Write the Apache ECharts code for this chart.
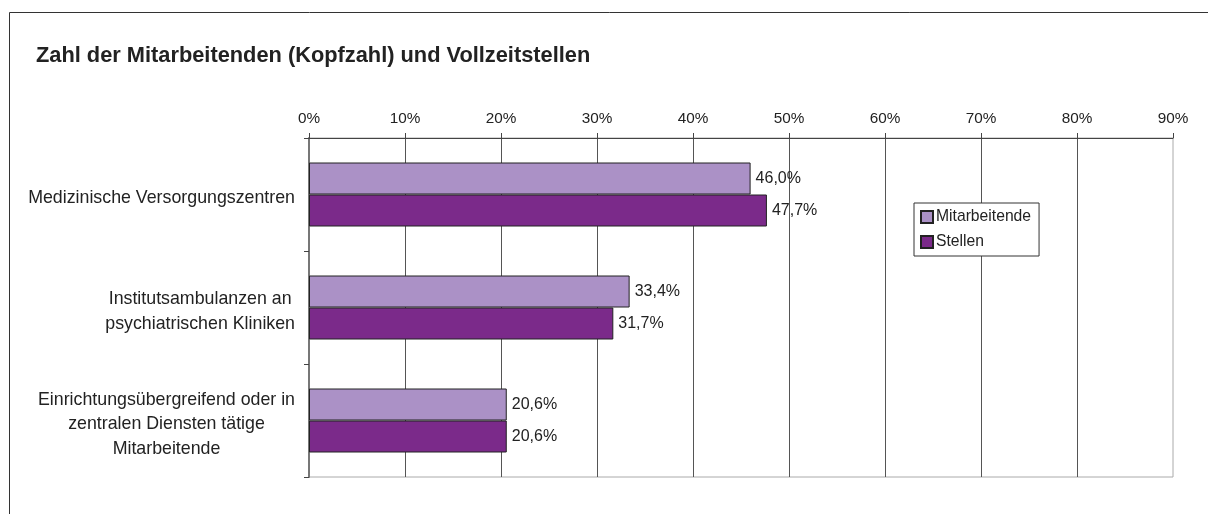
<!DOCTYPE html>
<html>
<head>
<meta charset="utf-8">
<script src="https://cdn.jsdelivr.net/npm/echarts@6/dist/echarts.min.js"></script>
<style>
    html, body { margin: 0; padding: 0; background: #fff; }
    #chart { width: 1208px; height: 514px; }
</style>
</head>
<body>
<div id="chart"></div>
<script>
var categories = [
    'Medizinische Versorgungszentren',
    'Institutsambulanzen an\npsychiatrischen Kliniken',
    'Einrichtungsübergreifend oder in\nzentralen Diensten tätige\nMitarbeitende'
];
var seriesNames = ['Mitarbeitende', 'Stellen'];
var mitarbeitende = [46.0, 33.4, 20.6];
var stellen = [47.7, 31.7, 20.6];

function pct(v) {
    return v.toFixed(1).replace('.', ',') + '%';
}

var font = 'Liberation Sans, Arial, sans-serif';
var myChart = echarts.init(document.getElementById('chart'));

var barLabel = {
    show: true,
    position: 'right',
    distance: 5,
    fontFamily: font,
    fontSize: 16,
    color: '#222',
    padding: [3, 0, 0, 0],
    formatter: function (p) { return pct(p.value); }
};

option = {
    animation: false,
    backgroundColor: '#fff',
    title: {
        text: 'Zahl der Mitarbeitenden (Kopfzahl) und Vollzeitstellen',
        left: 36,
        top: 45,
        padding: 0,
        textStyle: { fontFamily: font, fontSize: 21.8, fontWeight: 'bold', color: '#222' }
    },
    graphic: [{
        type: 'rect',
        z: -1,
        shape: { x: 9.5, y: 12.5, width: 1400, height: 700 },
        style: { fill: 'none', stroke: '#333', lineWidth: 1 }
    }],
    legend: {
        orient: 'vertical',
        left: 914,
        top: 203,
        padding: [6, 8, 6, 6],
        itemGap: 9,
        itemWidth: 12,
        itemHeight: 12,
        icon: 'rect',
        backgroundColor: '#fff',
        borderColor: '#333',
        borderWidth: 1,
        borderRadius: 0,
        textStyle: { fontFamily: font, fontSize: 15.7, color: '#222', padding: [0, 0, 0, -2] },
        data: seriesNames
    },
    grid: {
        left: 309,
        top: 138,
        right: 35,
        bottom: 37,
        show: true,
        borderColor: '#aaa',
        borderWidth: 1
    },
    xAxis: {
        type: 'value',
        position: 'top',
        min: 0,
        max: 90,
        interval: 10,
        axisLine: { show: true, lineStyle: { color: '#444', width: 1 } },
        axisTick: { show: true, inside: false, length: 5, lineStyle: { color: '#444' } },
        axisLabel: {
            margin: 12,
            fontFamily: font,
            fontSize: 15.3,
            color: '#222',
            formatter: '{value}%'
        },
        splitLine: { show: true, showMaxLine: false, lineStyle: { color: '#555', width: 1 } }
    },
    yAxis: {
        type: 'category',
        inverse: true,
        data: categories,
        axisLine: { show: true, lineStyle: { color: '#777', width: 2 } },
        axisTick: { show: true, length: 5, lineStyle: { color: '#444' } },
        axisLabel: {
            margin: 14,
            padding: [8, 0, 0, 0],
            formatter: function (v) {
                return v.split('\n').map(function (s) { return '{c|' + s + '}'; }).join('\n');
            },
            rich: {
                c: { align: 'center', fontFamily: font, fontSize: 17.8, lineHeight: 24.5, color: '#222' }
            }
        }
    },
    series: [
        {
            name: seriesNames[0],
            type: 'bar',
            barWidth: 32,
            barGap: '0%',
            itemStyle: { color: '#ab91c6', borderColor: '#222', borderWidth: 1 },
            label: barLabel,
            data: mitarbeitende
        },
        {
            name: seriesNames[1],
            type: 'bar',
            barWidth: 32,
            barGap: '0%',
            itemStyle: { color: '#7b2a8a', borderColor: '#222', borderWidth: 1 },
            label: barLabel,
            data: stellen
        }
    ]
};
myChart.setOption(option);
</script>
</body>
</html>
